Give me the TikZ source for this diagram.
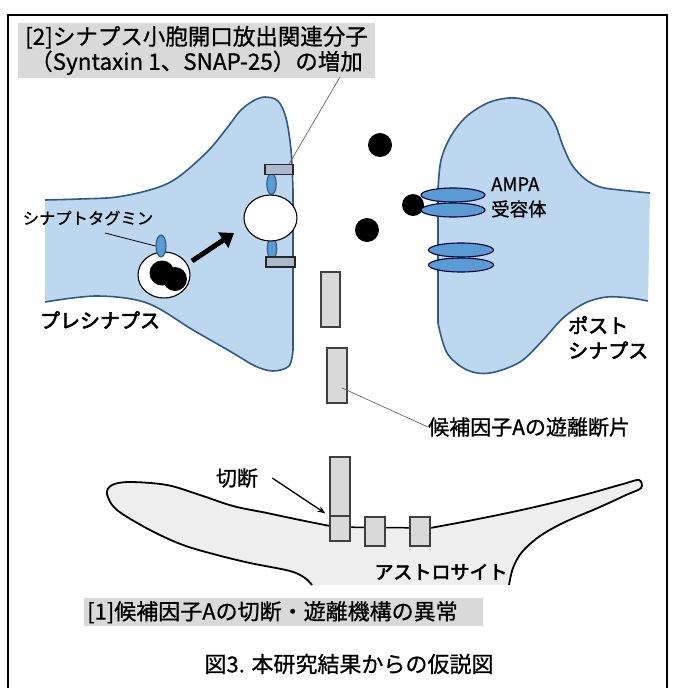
\documentclass[tikz,border=0pt]{standalone}
\usepackage{fontspec}
\setmainfont[FakeBold=0.8]{Noto Sans CJK JP}
\newfontfamily\semibold[FakeBold=3]{Noto Sans CJK JP}
\usetikzlibrary{shapes.geometric,arrows.meta}
\definecolor{cellblue}{HTML}{BDD7EE}
\definecolor{celledge}{HTML}{2F5A87}
\definecolor{protblue}{HTML}{5B9BD5}
\definecolor{bargray}{HTML}{ADB9CA}
\definecolor{boxgray}{HTML}{D9D9D9}
\definecolor{astrofill}{HTML}{EEEEEE}
\begin{document}
\begin{tikzpicture}[x=1pt,y=-1pt,
  lbl/.style={inner sep=0pt, font=\fontsize{21}{25}\selectfont},
  frag/.style={draw=black!75, fill=boxgray, line width=1.3pt, inner sep=0pt},
  bar/.style={draw=black!85, fill=bargray, line width=1.4pt, inner sep=0pt, minimum width=28, minimum height=9.5},
  syt/.style={ellipse, draw=celledge, fill=protblue, line width=1.1pt, inner sep=0pt, minimum width=9.5, minimum height=21},
  rcpt/.style={ellipse, draw=black!80!blue, fill=protblue, line width=1.1pt, inner sep=0pt, minimum width=64, minimum height=14},
  vesicle/.style={ellipse, draw=black, fill=white, line width=1.1pt, inner sep=0pt, minimum width=53, minimum height=46},
  blob/.style={circle, fill=black, inner sep=0pt},
  leader/.style={draw=black!60, line width=0.7pt},
]
\useasboundingbox (0,0) rectangle (672,688);
\fill[white] (0,0) rectangle (672,688);
% outer frame
\draw[line width=1.5pt] (8,700) -- (8,15) -- (667,15) -- (667,700);

% presynaptic terminal
\fill[cellblue] plot[smooth,tension=0.55] coordinates {(45,200) (80,199) (117,197) (153,189) (177,178) (207,152) (227,128) (240,111) (253,101) (265,97) (278,101) (286,118) (291,150) (293,190)} -- (293,350) -- plot[smooth,tension=0.55] coordinates {(293,350) (289,366) (273,371) (255,366) (233,353) (193,330) (147,303) (97,296) (45,302)} -- cycle;
\draw[celledge, line width=1.6pt] plot[smooth,tension=0.55] coordinates {(45,200) (80,199) (117,197) (153,189) (177,178) (207,152) (227,128) (240,111) (253,101) (265,97) (278,101) (286,118) (291,150) (293,190)} -- (293,350) -- plot[smooth,tension=0.55] coordinates {(293,350) (289,366) (273,371) (255,366) (233,353) (193,330) (147,303) (97,296) (45,302)};

% postsynaptic spine
\fill[cellblue] plot[smooth,tension=0.55] coordinates {(650,193) (620,190) (600,187) (585,179) (572,165) (563,146) (554,122) (540,105) (515,98) (490,102) (467,116) (451,136) (441,160) (438,190)} -- (438,323) -- plot[smooth,tension=0.55] coordinates {(438,323) (447,353) (467,370) (490,373) (520,362) (543,340) (563,318) (585,303) (607,297) (630,298) (648,301)} -- cycle;
\draw[celledge, line width=1.6pt] plot[smooth,tension=0.55] coordinates {(650,193) (620,190) (600,187) (585,179) (572,165) (563,146) (554,122) (540,105) (515,98) (490,102) (467,116) (451,136) (441,160) (438,190)} -- (438,323) -- plot[smooth,tension=0.55] coordinates {(438,323) (447,353) (467,370) (490,373) (520,362) (543,340) (563,318) (585,303) (607,297) (630,298) (648,301)};

% astrocyte
\fill[astrofill] plot[smooth,tension=0.55] coordinates {(330,526) (300,520) (267,513) (233,506) (200,495) (167,485) (130,482) (112,485) (107,494) (117,510) (150,530) (183,545) (217,555) (250,563) (290,571) (305,578) (312,585)} -- (509,585) -- plot[smooth,tension=0.55] coordinates {(509,585) (513,568) (522,552) (540,536) (565,522) (600,507) (626,495) (641,488) (639,480) (623,484) (580,496) (526,509) (473,520) (430,528)} -- cycle;
\draw[line width=1.8pt] plot[smooth,tension=0.55] coordinates {(330,526) (300,520) (267,513) (233,506) (200,495) (167,485) (130,482) (112,485) (107,494) (117,510) (150,530) (183,545) (217,555) (250,563) (290,571) (305,578) (312,585)};
\draw[line width=1.8pt] plot[smooth,tension=0.55] coordinates {(509,585) (513,568) (522,552) (540,536) (565,522) (600,507) (626,495) (641,488) (639,480) (623,484) (580,496) (526,509) (473,520) (430,528)};
\draw[line width=1.5pt] (330,527) -- (430,528);

% candidate factor A on the astrocyte membrane
\node[frag, minimum width=20, minimum height=59] (cutTop) at (340,486.5) {};
\node[frag, minimum width=20, minimum height=25] (cutBase) at (340,528.5) {};
\node[frag, minimum width=20, minimum height=29] (anchorB) at (375,531.5) {};
\node[frag, minimum width=20, minimum height=29] (anchorC) at (420,531.5) {};

% released fragments in the cleft
\node[frag, minimum width=19, minimum height=55] (fragA) at (330.5,299.5) {};
\node[frag, minimum width=20, minimum height=55] (fragB) at (337,375.5) {};

% docking proteins and fusing vesicle
\node[syt] (sytTop) at (271.5,184) {};
\node[syt, minimum height=22] (sytBot) at (272,248.5) {};
\node[bar] (barTop) at (279,169.5) {};
\node[bar, minimum width=29, minimum height=10] (barBot) at (280.5,262) {};
\node[vesicle] (fused) at (270.5,218) {};

% vesicle with transmitter
\node[vesicle, minimum width=52] (ves) at (164,275) {};
\node[blob, minimum size=25] (blobA) at (162,273) {};
\node[blob, minimum size=24] (blobB) at (175,279) {};
\node[syt, minimum width=10, minimum height=22] (syt) at (161,246) {};

% transmitter in the cleft
\node[blob, minimum size=24] (glu1) at (380,145) {};
\node[blob, minimum size=24] (glu2) at (367,230) {};
\node[blob, minimum size=22] (glu3) at (413,205) {};

% AMPA receptors
\node[rcpt] (ampa1) at (453,195) {};
\node[rcpt] (ampa2) at (453,210) {};
\node[rcpt, minimum width=65] (ampa3) at (461,250) {};
\node[rcpt, minimum width=65] (ampa4) at (461,265) {};

% movement of the vesicle
\coordinate (moveA) at (192,261);
\coordinate (moveB) at (234,233);
\draw[line width=5pt, -{Triangle[length=13pt,width=18pt]}] (moveA) -- (moveB);

% labels
\node[fill=boxgray, minimum width=357, minimum height=55, inner sep=0pt, align=center, font=\fontsize{22.5}{25}\selectfont] (title) at (196.5,50.5) {[2]シナプス小胞開口放出関連分子\\（Syntaxin 1、SNAP-25）の増加};
\coordinate (titleLead) at (340,77);
\draw[leader] (titleLead) -- ([xshift=10pt]barTop.north);

\node[lbl, font=\fontsize{16.3}{20}\selectfont] (sytLbl) at (88,218) {シナプトタグミン};
\coordinate (sytLead) at (105,233);
\draw[draw=black, line width=0.8pt] (sytLead) -- (syt.west);

\node[lbl, font=\fontsize{20}{25}\semibold] (preLbl) at (100,320) {プレシナプス};
\node[lbl, anchor=west, align=left, font=\fontsize{18.5}{25}\selectfont] (ampaLbl) at (491,197.5) {AMPA\\受容体};
\node[lbl, anchor=west, align=left, font=\fontsize{20}{25}\semibold] (postLbl) at (568,337.5) {ポスト\\シナプス};

\node[lbl, anchor=west] (fragLbl) at (428,427) {候補因子Aの遊離断片};
\draw[leader] ([xshift=5pt,yshift=-12.5pt]fragB.center) -- (fragLbl.west);

\node[lbl] (cutLbl) at (237,478) {切断};
\draw[line width=1.3pt, -{Stealth[length=8pt,width=6pt]}] ([xshift=14pt]cutLbl.east) -- ([xshift=-4pt,yshift=2pt]cutBase.north west);

\node[lbl, font=\fontsize{19}{25}\semibold] (astroLbl) at (441,572) {アストロサイト};

\node[fill=boxgray, anchor=north west, minimum height=28, text width=393, inner xsep=3pt, inner ysep=0pt, align=left, font=\fontsize{22}{25}\selectfont] (finding1) at (84,598) {[1]候補因子Aの切断・遊離機構の異常};

\node[lbl, font=\fontsize{22}{25}\selectfont] (caption) at (349,664) {図3. 本研究結果からの仮説図};
\end{tikzpicture}
\end{document}
